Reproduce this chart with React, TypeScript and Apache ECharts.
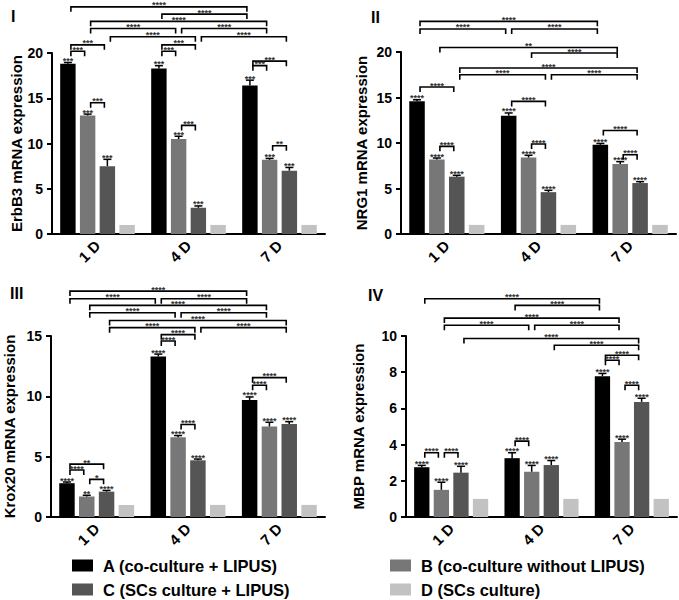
import React, { useEffect, useRef } from 'react';
import * as echarts from 'echarts';

const FONT = '"Liberation Sans", Arial, Helvetica, sans-serif';

const categories = ['1 D', '4 D', '7 D'];
const seriesNames = [
  'A (co-culture + LIPUS)',
  'B (co-culture without LIPUS)',
  'C (SCs culture + LIPUS)',
  'D (SCs culture)',
];
const seriesColors = ['#000000', '#777777', '#555555', '#c2c2c2'];

// ---- Panel I : ErbB3 ----
const erbB3Means = [
  [18.8, 18.3, 16.4],
  [13.1, 10.5, 8.2],
  [7.5, 2.9, 7.0],
  [1.0, 1.0, 1.0],
];
const erbB3Errors = [
  [0.15, 0.3, 0.6],
  [0.15, 0.3, 0.15],
  [0.75, 0.2, 0.35],
];
const erbB3Stars = [
  ['***', '***', '***'],
  ['***', '***', '***'],
  ['***', '***', '***'],
];
// [group1, bar1, group2, bar2, y, label]
const erbB3Brackets = [
  [0, 0, 2, 0, 25.1, '****'],
  [1, 0, 2, 0, 24.3, '****'],
  [0, 1, 2, 1, 23.5, '****'],
  [0, 1, 1, 1, 22.7, '****'],
  [1, 1, 2, 1, 22.7, '****'],
  [0, 2, 1, 2, 21.8, '****'],
  [1, 2, 2, 2, 21.8, '****'],
  [0, 0, 0, 2, 20.9, '***'],
  [1, 0, 1, 2, 20.9, '***'],
  [0, 0, 0, 1, 20.2, '***'],
  [1, 0, 1, 1, 20.2, '***'],
  [2, 0, 2, 2, 19.1, '***'],
  [2, 0, 2, 1, 18.6, '***'],
  [0, 1, 0, 2, 14.5, '***'],
  [1, 1, 1, 2, 12.0, '***'],
  [2, 1, 2, 2, 9.75, '**'],
];

// ---- Panel II : NRG1 ----
const nrg1Means = [
  [14.6, 13.0, 9.8],
  [8.2, 8.4, 7.7],
  [6.3, 4.6, 5.6],
  [1.0, 1.0, 1.0],
];
const nrg1Errors = [
  [0.15, 0.3, 0.15],
  [0.15, 0.25, 0.25],
  [0.15, 0.2, 0.15],
];
const nrg1Stars = [
  ['****', '****', '****'],
  ['****', '****', '****'],
  ['****', '****', '****'],
];
const nrg1Brackets = [
  [0, 0, 2, 0, 23.37, '****'],
  [0, 0, 1, 0, 22.53, '****'],
  [1, 0, 2, 0, 22.53, '****'],
  [0, 1, 2, 1, 20.5, '**'],
  [1, 1, 2, 1, 19.89, '****'],
  [0, 2, 2, 2, 18.24, '****'],
  [0, 2, 1, 2, 17.5, '****'],
  [1, 2, 2, 2, 17.5, '****'],
  [0, 0, 0, 2, 16.15, '****'],
  [1, 0, 1, 2, 14.57, '****'],
  [2, 0, 2, 2, 11.38, '****'],
  [0, 1, 0, 2, 9.63, '****'],
  [1, 1, 1, 2, 9.89, '****'],
  [2, 1, 2, 2, 8.71, '****'],
];

// ---- Panel III : Krox20 ----
const krox20Means = [
  [2.8, 13.3, 9.7],
  [1.7, 6.6, 7.5],
  [2.1, 4.7, 7.7],
  [1.0, 1.0, 1.0],
];
const krox20Errors = [
  [0.1, 0.2, 0.25],
  [0.1, 0.15, 0.35],
  [0.1, 0.1, 0.2],
];
const krox20Stars = [
  ['****', '****', '****'],
  ['**', '****', '****'],
  ['****', '****', '****'],
];
const krox20Brackets = [
  [0, 0, 2, 0, 18.72, '****'],
  [0, 0, 1, 0, 18.09, '****'],
  [1, 0, 2, 0, 18.09, '****'],
  [0, 1, 2, 1, 17.54, '****'],
  [0, 1, 1, 1, 16.93, '****'],
  [1, 1, 2, 1, 16.93, '****'],
  [0, 2, 2, 2, 16.29, '****'],
  [0, 2, 1, 2, 15.69, '****'],
  [1, 2, 2, 2, 15.69, '****'],
  [1, 0, 1, 2, 15.11, '****'],
  [1, 0, 1, 1, 14.58, '****'],
  [2, 0, 2, 2, 11.55, '****'],
  [2, 0, 2, 1, 10.92, '****'],
  [1, 1, 1, 2, 7.66, '****'],
  [0, 0, 0, 2, 4.38, '**'],
  [0, 0, 0, 1, 3.89, '****'],
  [0, 1, 0, 2, 3.12, '*'],
];

// ---- Panel IV : MBP ----
const mbpMeans = [
  [2.75, 3.25, 7.78],
  [1.5, 2.5, 4.15],
  [2.45, 2.87, 6.36],
  [1.0, 1.0, 1.0],
];
const mbpErrors = [
  [0.1, 0.3, 0.15],
  [0.42, 0.35, 0.15],
  [0.35, 0.25, 0.2],
];
const mbpStars = [
  ['****', '****', '****'],
  ['****', '****', '****'],
  ['****', '****', '****'],
];
const mbpBrackets = [
  [0, 0, 2, 0, 12.06, '****'],
  [1, 0, 2, 0, 11.69, '****'],
  [0, 1, 2, 1, 10.99, '****'],
  [0, 1, 1, 1, 10.59, '****'],
  [1, 1, 2, 1, 10.59, '****'],
  [0, 2, 2, 2, 9.86, '****'],
  [1, 2, 2, 2, 9.49, '****'],
  [2, 0, 2, 2, 8.94, '****'],
  [2, 0, 2, 1, 8.66, '****'],
  [2, 1, 2, 2, 7.28, '****'],
  [1, 0, 1, 1, 4.19, '****'],
  [0, 0, 0, 1, 3.55, '****'],
  [0, 1, 0, 2, 3.55, '****'],
];

const panels = [
  {
    tag: 'I', yName: 'ErbB3 mRNA expression', means: erbB3Means, errors: erbB3Errors,
    stars: erbB3Stars, brackets: erbB3Brackets, max: 20, interval: 5,
    grid: { left: 52, top: 53, width: 273, height: 181 }, nameGap: 24, tagPos: { left: 11, top: 8 },
  },
  {
    tag: 'II', yName: 'NRG1 mRNA expression', means: nrg1Means, errors: nrg1Errors,
    stars: nrg1Stars, brackets: nrg1Brackets, max: 20, interval: 5,
    grid: { left: 401, top: 52, width: 275, height: 182 }, nameGap: 32, tagPos: { left: 371, top: 9 },
  },
  {
    tag: 'III', yName: 'Krox20 mRNA expression', means: krox20Means, errors: krox20Errors,
    stars: krox20Stars, brackets: krox20Brackets, max: 15, interval: 5,
    grid: { left: 51, top: 336, width: 274, height: 181 }, nameGap: 34, tagPos: { left: 10, top: 285 },
  },
  {
    tag: 'IV', yName: 'MBP mRNA expression', means: mbpMeans, errors: mbpErrors,
    stars: mbpStars, brackets: mbpBrackets, max: 10, interval: 2,
    grid: { left: 406, top: 336, width: 271, height: 181 }, nameGap: 40, tagPos: { left: 368, top: 287 },
  },
];

const BAR_CAT_GAP = 0.18;
const BAR_GAP = 0.28;
const barUnit = (1 - BAR_CAT_GAP) / (4 + 3 * BAR_GAP);
const barOffsets = [0, 1, 2, 3].map((i) => (i - 1.5) * barUnit * (1 + BAR_GAP));

const starStyle = {
  fontSize: 9, fontWeight: 'bold', fontFamily: FONT, fill: '#333',
  align: 'center', verticalAlign: 'bottom', lineHeight: 5,
};

function buildOption() {
  const grid: any[] = [];
  const xAxis: any[] = [];
  const yAxis: any[] = [];
  const series: any[] = [];
  const title: any[] = [];

  panels.forEach((p, pi) => {
    grid.push({ ...p.grid, containLabel: false });
    title.push({
      text: p.tag, ...p.tagPos, padding: 0,
      textStyle: { fontSize: 16, fontWeight: 'bold', fontFamily: FONT, color: '#000' },
    });
    xAxis.push({
      type: 'category', gridIndex: pi, data: categories,
      axisLine: { onZero: false, lineStyle: { color: '#000', width: 2 } },
      axisTick: { alignWithLabel: true, length: 5, lineStyle: { color: '#000', width: 2 } },
      axisLabel: {
        rotate: 45, interval: 0, margin: 9, color: '#000',
        fontSize: 15, fontWeight: 'bold', fontFamily: FONT,
      },
    });
    xAxis.push({
      type: 'value', gridIndex: pi, min: -0.5, max: 2.5, show: false,
      axisLine: { show: false, onZero: false }, splitLine: { show: false },
    });
    yAxis.push({
      type: 'value', gridIndex: pi, min: 0, max: p.max, interval: p.interval,
      name: p.yName, nameLocation: 'middle', nameGap: p.nameGap,
      nameTextStyle: { fontSize: 15, fontWeight: 'bold', fontFamily: FONT, color: '#000' },
      axisLine: { show: true, onZero: false, lineStyle: { color: '#000', width: 2 } },
      axisTick: { show: true, length: 5, lineStyle: { color: '#000', width: 2 } },
      splitLine: { show: false },
      axisLabel: { margin: 9, color: '#000', fontSize: 14, fontWeight: 'bold', fontFamily: FONT },
    });

    p.means.forEach((vals, k) => {
      series.push({
        type: 'bar', name: seriesNames[k], xAxisIndex: pi * 2, yAxisIndex: pi,
        data: vals, barCategoryGap: `${BAR_CAT_GAP * 100}%`, barGap: `${BAR_GAP * 100}%`,
        itemStyle: { color: seriesColors[k] },
      });
    });

    // error bars + significance stars above bars
    const ebData: number[][] = [];
    const ebLabels: string[] = [];
    for (let g = 0; g < 3; g++) {
      for (let k = 0; k < 3; k++) {
        ebData.push([g + barOffsets[k], p.means[k][g], p.errors[k][g]]);
        ebLabels.push(p.stars[k][g]);
      }
    }
    series.push({
      type: 'custom', xAxisIndex: pi * 2 + 1, yAxisIndex: pi, data: ebData,
      encode: { x: 0, y: 1 }, z: 5, silent: true,
      renderItem: (params: any, api: any) => {
        const x = api.value(0);
        const v = api.value(1);
        const e = api.value(2);
        const base = api.coord([x, v]);
        const top = api.coord([x, v + e]);
        const children: any[] = [
          { type: 'line', shape: { x1: base[0], y1: base[1], x2: top[0], y2: top[1] }, style: { stroke: '#000', lineWidth: 1.5 } },
          { type: 'line', shape: { x1: top[0] - 4, y1: top[1], x2: top[0] + 4, y2: top[1] }, style: { stroke: '#000', lineWidth: 1.5 } },
        ];
        const label = ebLabels[params.dataIndex];
        if (label) {
          children.push({
            type: 'text', x: top[0], y: top[1] + 1,
            style: { ...starStyle, text: label },
          });
        }
        return { type: 'group', children };
      },
    });

    // comparison brackets
    const brData = p.brackets.map((b: any[]) => [b[0] + barOffsets[b[1]], b[2] + barOffsets[b[3]], b[4]]);
    const brLabels = p.brackets.map((b: any[]) => b[5]);
    series.push({
      type: 'custom', xAxisIndex: pi * 2 + 1, yAxisIndex: pi, data: brData,
      encode: { x: [0, 1], y: 2 }, z: 6, silent: true, clip: false,
      renderItem: (params: any, api: any) => {
        const y = api.value(2);
        const p1 = api.coord([api.value(0), y]);
        const p2 = api.coord([api.value(1), y]);
        const x1 = p1[0] + 3;
        const x2 = p2[0] - 3;
        const yy = p1[1];
        return {
          type: 'group',
          children: [
            {
              type: 'polyline',
              shape: { points: [[x1, yy + 5], [x1, yy], [x2, yy], [x2, yy + 5]] },
              style: { stroke: '#000', lineWidth: 1.6, fill: 'none' },
            },
            {
              type: 'text', x: (x1 + x2) / 2, y: yy + 1,
              style: { ...starStyle, text: brLabels[params.dataIndex] },
            },
          ],
        };
      },
    });
  });

  const legendPos = [
    { left: 72, top: 557 },
    { left: 390, top: 557 },
    { left: 72, top: 581 },
    { left: 390, top: 581 },
  ];
  const legend = seriesNames.map((n, i) => ({
    data: [n], ...legendPos[i], padding: 0, itemWidth: 21, itemHeight: 12, icon: 'rect',
    selectedMode: false,
    textStyle: { fontSize: 16.5, fontWeight: 'bold', fontFamily: FONT, color: '#000', padding: [0, 0, 0, 5] },
  }));

  return {
    animation: false,
    backgroundColor: '#ffffff',
    textStyle: { fontFamily: FONT },
    title, grid, xAxis, yAxis, series, legend,
  };
}

export default function App() {
  const ref = useRef<HTMLDivElement>(null);
  useEffect(() => {
    if (!ref.current) return;
    const chart = echarts.init(ref.current, null, { renderer: 'svg' });
    chart.setOption(buildOption() as any);
    return () => chart.dispose();
  }, []);
  return (
    <div
      ref={ref}
      style={{ position: 'fixed', left: 0, top: 0, width: 679, height: 600, background: '#fff' }}
    />
  );
}
